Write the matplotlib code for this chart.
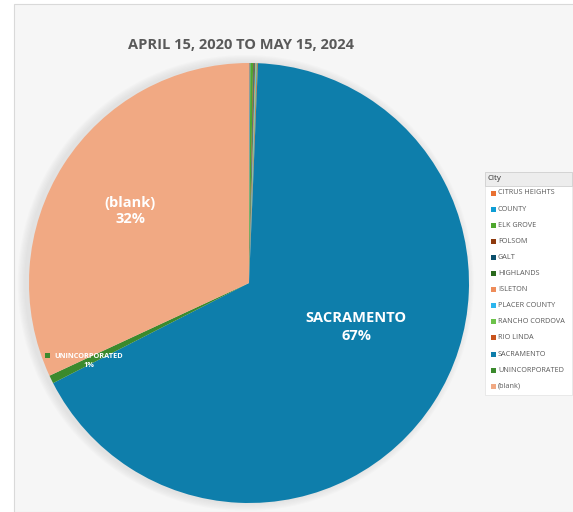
import matplotlib.pyplot as plt
from matplotlib.patches import Rectangle, Circle

# data (counts per city)
cities = ["CITRUS HEIGHTS", "COUNTY", "ELK GROVE", "FOLSOM", "GALT", "HIGHLANDS",
          "ISLETON", "PLACER COUNTY", "RANCHO CORDOVA", "RIO LINDA", "SACRAMENTO",
          "UNINCORPORATED", "(blank)"]
counts = [1, 1, 4, 1, 1, 1, 1, 1, 1, 1, 1340, 12, 640]
colors = ["#E97132", "#0F9ED5", "#4EA72E", "#8E3A0E", "#0B4F6C", "#2A6A1D",
          "#EE8C5A", "#2CB5EE", "#6CC24A", "#C9541E", "#0E7EAB", "#3B8A2D", "#F1A983"]

title = "APRIL 15, 2020 TO MAY 15, 2024"
legend_title = "City"

W, H = 573, 512
fig = plt.figure(figsize=(W / 100, H / 100), dpi=100)
fig.patch.set_facecolor("white")

def px(x, y):
    return x / W, 1 - y / H

# chart area frame (behind everything)
fig.patches.append(Rectangle((14 / W, 0), 1, 1 - 4 / H, transform=fig.transFigure,
                             facecolor="#F6F6F6", edgecolor="#D9D9D9", lw=0.8, zorder=-5))

cx, cy, r = 249, 283, 220
ax = fig.add_axes([(cx - r) / W, 1 - (cy + r) / H, 2 * r / W, 2 * r / H])
ax.patch.set_visible(False)
ax.axis("off")

# soft shadow, mostly to the left
for i in range(6):
    ax.add_patch(Circle((-0.015, 0.0), 1 + 0.006 * (6 - i), color="#9A9A9A",
                        alpha=0.035, lw=0, zorder=0, clip_on=False))

total = sum(counts)
wedges, _ = ax.pie(counts, colors=colors, startangle=90, counterclock=False,
                   radius=1, wedgeprops=dict(linewidth=0, clip_on=False))
ax.set_xlim(-1, 1)
ax.set_ylim(-1, 1)

fam = ["Open Sans", "DejaVu Sans"]
tx, ty = px(241, 45)
fig.text(tx, ty, title, ha="center", va="center", fontsize=10.5, fontweight="bold",
         color="#595959", family=fam, zorder=6)

def pct(name):
    return f"{round(100 * counts[cities.index(name)] / total)}%"

x, y = px(130, 211)
fig.text(x, y, f"(blank)\n{pct('(blank)')}", ha="center", va="center", color="white",
         fontsize=10.5, fontweight="bold", family=fam, linespacing=1.25, zorder=6)
x, y = px(356, 327)
fig.text(x, y, f"SACRAMENTO\n{pct('SACRAMENTO')}", ha="center", va="center", color="white",
         fontsize=10.5, fontweight="bold", family=fam, linespacing=1.3, zorder=6)
x, y = px(89, 361)
fig.text(x, y, f"UNINCORPORATED\n{pct('UNINCORPORATED')}", ha="center", va="center",
         color="white", fontsize=5.3, fontweight="bold", family=fam, linespacing=1.4, zorder=6)
fig.patches.append(Rectangle(px(45, 358), 5 / W, 5 / H, transform=fig.transFigure,
                             facecolor=colors[cities.index("UNINCORPORATED")], lw=0, zorder=5))

# legend box
lx0, ly0, lx1, ly1 = 485, 172, 572, 395
fig.patches.append(Rectangle(px(lx0, ly1), (lx1 - lx0) / W, (ly1 - ly0) / H,
                             transform=fig.transFigure, facecolor="white",
                             edgecolor="#E6E6E6", lw=0.6, zorder=2))
fig.patches.append(Rectangle(px(lx0, 186), (lx1 - lx0) / W, 14 / H,
                             transform=fig.transFigure, facecolor="#EDEDED",
                             edgecolor="#D0D0D0", lw=0.6, zorder=3))
x, y = px(487, 179)
fig.text(x, y, legend_title, ha="left", va="center", fontsize=5.8, color="#303030",
         family=fam, zorder=6)
for i, (name, c) in enumerate(zip(cities, colors)):
    yy = 193 + i * 16.1
    fig.patches.append(Rectangle(px(491, yy + 2.5), 5 / W, 5 / H,
                                 transform=fig.transFigure, facecolor=c, lw=0, zorder=4))
    x, y = px(498, yy)
    fig.text(x, y, name, ha="left", va="center", fontsize=5.2, color="#595959",
             family=fam, zorder=6)

fig.savefig("out.png", dpi=100)
